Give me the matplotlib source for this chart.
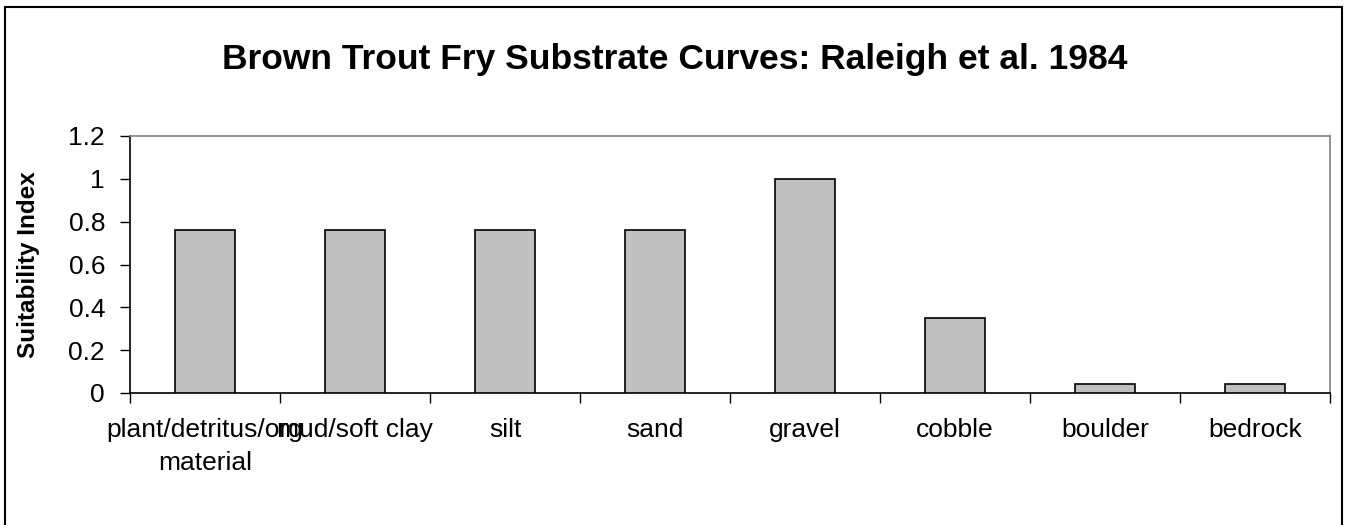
#!/usr/bin/env python3

import matplotlib
matplotlib.use("Agg")
import matplotlib.pyplot as plt
from matplotlib.patches import Rectangle
import numpy as np

categories = ["plant/detritus/org\nmaterial", "mud/soft clay", "silt", "sand",
              "gravel", "cobble", "boulder", "bedrock"]
suitability = [0.76, 0.76, 0.76, 0.76, 1.0, 0.35, 0.04, 0.04]
yticks = [0, 0.2, 0.4, 0.6, 0.8, 1, 1.2]
ytick_labels = ["0", "0.2", "0.4", "0.6", "0.8", "1", "1.2"]
title = "Brown Trout Fry Substrate Curves: Raleigh et al. 1984"

plt.rcParams['font.family'] = ['Liberation Sans', 'DejaVu Sans']

W, H = 1349, 525
fontsize = 19
fig = plt.figure(figsize=(W/100, H/100), dpi=100)
ax = fig.add_axes([130/W, 1 - 393/H, 1200/W, 257/H])

x = np.arange(len(categories))
ax.bar(x, suitability, width=0.4, color='#c0c0c0', edgecolor='black', linewidth=1.2, zorder=3)

ax.set_xlim(-0.5, len(categories) - 0.5)
ax.set_ylim(0, 1.2)
ax.set_yticks(yticks)
ax.set_yticklabels(ytick_labels, fontsize=fontsize)
ax.set_xticks(x)
ax.set_xticklabels(categories, fontsize=fontsize, linespacing=1.5)
ax.tick_params(axis='x', length=0, pad=18)
ax.set_xticks(np.arange(len(categories) + 1) - 0.5, minor=True)
ax.tick_params(axis='x', which='minor', length=7, width=1, direction='out')
ax.tick_params(axis='y', length=7, width=1, direction='out', pad=11)

for s in ['top', 'right']:
    ax.spines[s].set_color('#808080')
    ax.spines[s].set_linewidth(1.2)
for s in ['left', 'bottom']:
    ax.spines[s].set_color('black')
    ax.spines[s].set_linewidth(1.2)

ax.set_ylabel("Suitability Index", fontsize=17.5, fontweight='bold')
ax.yaxis.set_label_coords(-(130 - 40) / 1200, 0.5)

fig.text(0.5, 1 - 60/H, title, ha='center', va='center', fontsize=25.5, fontweight='bold')

border = Rectangle((5/W, -0.02), (1342 - 5)/W, 1 - 7/H + 0.02, transform=fig.transFigure,
                   fill=False, edgecolor='black', linewidth=1.5, clip_on=False)
fig.patches.append(border)

fig.savefig('out.png', dpi=100)
plt.close()
